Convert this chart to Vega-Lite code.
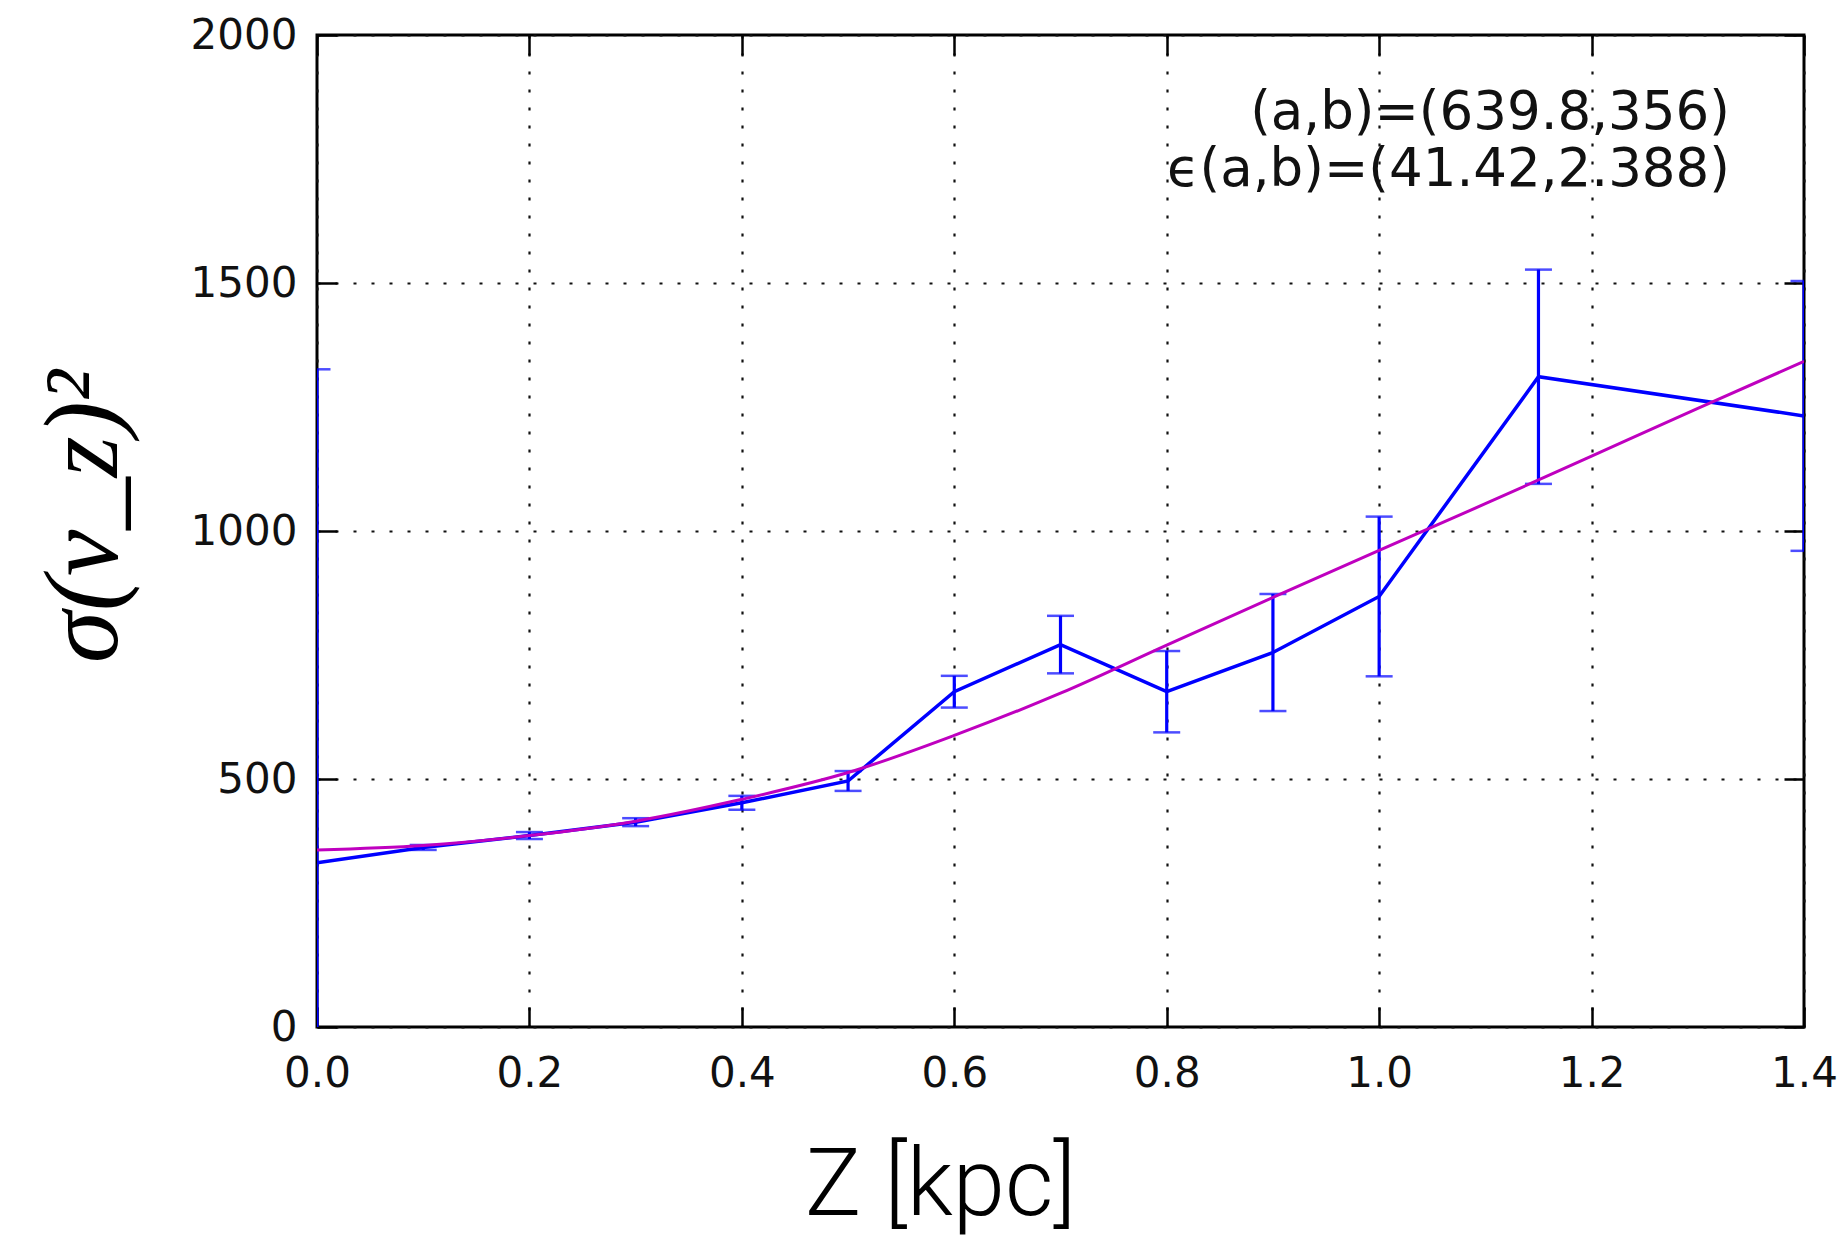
{
  "$schema": "https://vega.github.io/schema/vega-lite/v6.json",
  "width": 1487,
  "height": 992,
  "autosize": {"type": "none"},
  "padding": {"left": 317, "top": 35, "right": 38, "bottom": 212},
  "background": "white",
  "config": {
    "view": {"stroke": "black", "strokeWidth": 3},
    "axis": {
      "labelFont": "DejaVu Sans",
      "labelFontSize": 42,
      "labelColor": "#111111",
      "labelFlush": false,
      "tickColor": "black",
      "tickWidth": 2.5,
      "tickSize": -20,
      "domain": false,
      "gridColor": "#111111",
      "gridDash": [3, 15],
      "gridWidth": 2.2
    }
  },
  "datasets": {
    "obs": [
      {"z": 0.0, "s2": 331, "lo": -664, "hi": 1326},
      {"z": 0.1, "s2": 362, "lo": 357, "hi": 367},
      {"z": 0.2, "s2": 386, "lo": 379, "hi": 393},
      {"z": 0.3, "s2": 413, "lo": 405, "hi": 421},
      {"z": 0.4, "s2": 452, "lo": 438, "hi": 466},
      {"z": 0.5, "s2": 496, "lo": 476, "hi": 516},
      {"z": 0.6, "s2": 676, "lo": 644, "hi": 708},
      {"z": 0.7, "s2": 771, "lo": 713, "hi": 829},
      {"z": 0.8, "s2": 676, "lo": 594, "hi": 758},
      {"z": 0.9, "s2": 755, "lo": 637, "hi": 873},
      {"z": 1.0, "s2": 868, "lo": 707, "hi": 1029},
      {"z": 1.15, "s2": 1311, "lo": 1095, "hi": 1527},
      {"z": 1.4, "s2": 1232, "lo": 960, "hi": 1504}
    ],
    "fit": [
      {"z": 0.0, "s2": 357},
      {"z": 0.1, "s2": 366},
      {"z": 0.2, "s2": 386},
      {"z": 0.3, "s2": 415},
      {"z": 0.4, "s2": 459},
      {"z": 0.5, "s2": 513},
      {"z": 0.6, "s2": 588},
      {"z": 0.7, "s2": 673},
      {"z": 0.8, "s2": 770},
      {"z": 0.9, "s2": 866},
      {"z": 1.0, "s2": 961},
      {"z": 1.1, "s2": 1055},
      {"z": 1.2, "s2": 1151},
      {"z": 1.3, "s2": 1247},
      {"z": 1.4, "s2": 1342}
    ]
  },
  "layer": [
    {
      "data": {"name": "obs"},
      "mark": {"type": "rule", "color": "#0000ff", "strokeWidth": 3.2, "clip": true},
      "encoding": {
        "x": {
          "field": "z", "type": "quantitative",
          "scale": {"domain": [0, 1.4], "nice": false},
          "axis": {
            "orient": "bottom",
            "values": [0, 0.2, 0.4, 0.6, 0.8, 1.0, 1.2, 1.4],
            "format": ".1f",
            "grid": true,
            "labelPadding": 46,
            "title": "Z [kpc]",
            "titleFont": "Roboto",
            "titleFontWeight": 300,
            "titleFontSize": 94,
            "titleColor": "black",
            "titleX": 623,
            "titleY": 187,
            "titleAlign": "center",
            "titleBaseline": "alphabetic"
          }
        },
        "y": {
          "field": "lo", "type": "quantitative",
          "scale": {"domain": [0, 2000], "nice": false},
          "axis": {
            "orient": "left",
            "values": [0, 500, 1000, 1500, 2000],
            "format": "d",
            "grid": true,
            "labelPadding": 40,
            "title": "σ(v_z)²",
            "titleFont": "Liberation Serif",
            "titleFontStyle": "italic",
            "titleFontWeight": "normal",
            "titleFontSize": 105,
            "titleColor": "black",
            "titleAngle": -90,
            "titleX": -233,
            "titleY": 481,
            "titleAlign": "center",
            "titleBaseline": "middle"
          }
        },
        "y2": {"field": "hi"}
      }
    },
    {
      "data": {"name": "obs"},
      "mark": {"type": "tick", "orient": "horizontal", "size": 27, "thickness": 2.5, "color": "#0000ff", "clip": true},
      "encoding": {
        "x": {"field": "z", "type": "quantitative", "scale": {"domain": [0, 1.4], "nice": false}, "axis": null},
        "y": {"field": "lo", "type": "quantitative", "scale": {"domain": [0, 2000], "nice": false}, "axis": null}
      }
    },
    {
      "data": {"name": "obs"},
      "mark": {"type": "tick", "orient": "horizontal", "size": 27, "thickness": 2.5, "color": "#0000ff", "clip": true},
      "encoding": {
        "x": {"field": "z", "type": "quantitative", "scale": {"domain": [0, 1.4], "nice": false}, "axis": null},
        "y": {"field": "hi", "type": "quantitative", "scale": {"domain": [0, 2000], "nice": false}, "axis": null}
      }
    },
    {
      "data": {"name": "obs"},
      "mark": {"type": "line", "color": "#0000ff", "strokeWidth": 3.5, "clip": true},
      "encoding": {
        "x": {"field": "z", "type": "quantitative", "scale": {"domain": [0, 1.4], "nice": false}, "axis": null},
        "y": {"field": "s2", "type": "quantitative", "scale": {"domain": [0, 2000], "nice": false}, "axis": null}
      }
    },
    {
      "data": {"name": "fit"},
      "mark": {"type": "line", "color": "#bf00bf", "strokeWidth": 3, "interpolate": "monotone", "clip": true},
      "encoding": {
        "x": {
          "field": "z", "type": "quantitative",
          "scale": {"domain": [0, 1.4], "nice": false},
          "axis": {"orient": "top", "values": [0, 0.2, 0.4, 0.6, 0.8, 1.0, 1.2, 1.4], "labels": false, "grid": false, "title": null}
        },
        "y": {
          "field": "s2", "type": "quantitative",
          "scale": {"domain": [0, 2000], "nice": false},
          "axis": {"orient": "right", "values": [0, 500, 1000, 1500, 2000], "labels": false, "grid": false, "title": null}
        }
      }
    },
    {
      "data": {"values": [{"label": "fit"}]},
      "mark": {"type": "text", "align": "right", "baseline": "alphabetic", "font": "DejaVu Sans", "fontSize": 53, "lineHeight": 57, "color": "#111111"},
      "encoding": {
        "x": {"datum": 1.3303, "type": "quantitative", "scale": {"domain": [0, 1.4], "nice": false}, "axis": null},
        "y": {"datum": 1810, "type": "quantitative", "scale": {"domain": [0, 2000], "nice": false}, "axis": null},
        "text": {"value": ["(a,b)=(639.8,356)", "ϵ(a,b)=(41.42,2.388)"]}
      }
    }
  ],
  "resolve": {"axis": {"x": "independent", "y": "independent"}}
}
